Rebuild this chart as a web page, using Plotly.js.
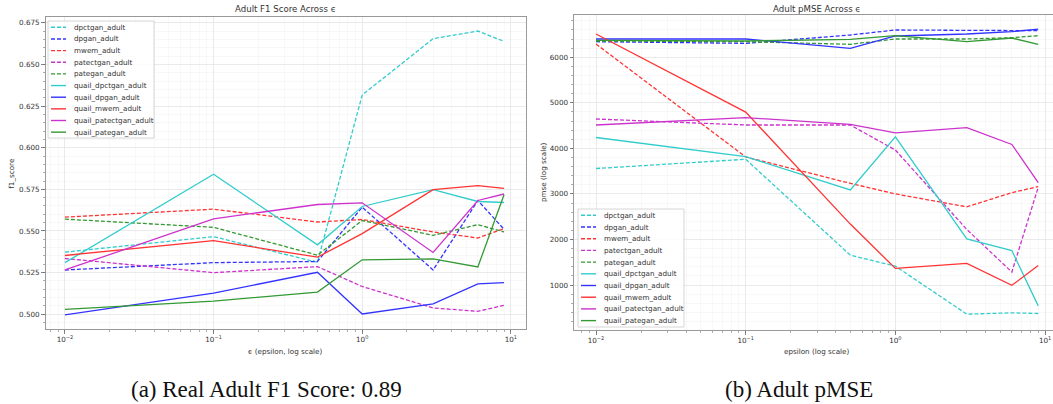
<!DOCTYPE html>
<html><head><meta charset="utf-8">
<script src="https://cdn.plot.ly/plotly-3.0.1.min.js"></script>
<style>html,body{margin:0;padding:0;background:#fff}#chart{width:1053px;height:404px}</style>
</head><body><div id="chart"></div>
<script>
// ---------- data ----------
const epsilon = [0.01, 0.1, 0.5, 1, 3, 6, 9];
const methods = ['dpctgan_adult','dpgan_adult','mwem_adult','patectgan_adult','pategan_adult',
  'quail_dpctgan_adult','quail_dpgan_adult','quail_mwem_adult','quail_patectgan_adult','quail_pategan_adult'];

// F1 score per method
const f1_dpctgan        = [0.5373, 0.5466, 0.5312, 0.6316, 0.6654, 0.6700, 0.6638];
const f1_dpgan          = [0.5266, 0.5310, 0.5317, 0.5643, 0.5266, 0.5683, 0.5510];
const f1_mwem           = [0.5583, 0.5631, 0.5554, 0.5569, 0.5494, 0.5458, 0.5514];
const f1_patectgan      = [0.5335, 0.5250, 0.5286, 0.5167, 0.5038, 0.5018, 0.5054];
const f1_pategan        = [0.5571, 0.5522, 0.5355, 0.5563, 0.5474, 0.5538, 0.5494];
const f1_quail_dpctgan  = [0.5310, 0.5841, 0.5417, 0.5647, 0.5748, 0.5677, 0.5671];
const f1_quail_dpgan    = [0.4996, 0.5127, 0.5252, 0.5002, 0.5063, 0.5183, 0.5190];
const f1_quail_mwem     = [0.5353, 0.5442, 0.5343, 0.5484, 0.5748, 0.5772, 0.5756];
const f1_quail_patectgan= [0.5266, 0.5573, 0.5659, 0.5669, 0.5371, 0.5683, 0.5722];
const f1_quail_pategan  = [0.5030, 0.5079, 0.5133, 0.5327, 0.5333, 0.5284, 0.5718];

// pMSE per method
const pmse_dpctgan        = [3558, 3761, 1655, 1414, 360, 389, 374];
const pmse_dpgan          = [6343, 6307, 6490, 6600, 6592, 6585, 6585];
const pmse_mwem           = [6292, 3812, 3233, 3000, 2716, 3029, 3160];
const pmse_patectgan      = [4645, 4514, 4514, 3964, 2220, 1284, 3145];
const pmse_pategan        = [6358, 6343, 6285, 6402, 6402, 6431, 6475];
const pmse_quail_dpctgan  = [4239, 3819, 3087, 4254, 2011, 1756, 542];
const pmse_quail_dpgan    = [6402, 6402, 6197, 6468, 6512, 6563, 6621];
const pmse_quail_mwem     = [6512, 4797, 2338, 1364, 1473, 993, 1429];
const pmse_quail_patectgan= [4514, 4674, 4529, 4341, 4457, 4087, 3247];
const pmse_quail_pategan  = [6373, 6358, 6395, 6475, 6343, 6424, 6285];

const xTickVals = [0.01, 0.1, 1, 10];
const xTickText = ['10<sup>\u22122</sup>', '10<sup>\u22121</sup>', '10<sup>0</sup>', '10<sup>1</sup>'];
const f1TickVals = [0.500, 0.525, 0.550, 0.575, 0.600, 0.625, 0.650, 0.675];
const pmseTickVals = [1000, 2000, 3000, 4000, 5000, 6000];

const f1Series = [f1_dpctgan, f1_dpgan, f1_mwem, f1_patectgan, f1_pategan,
  f1_quail_dpctgan, f1_quail_dpgan, f1_quail_mwem, f1_quail_patectgan, f1_quail_pategan];
const pmseSeries = [pmse_dpctgan, pmse_dpgan, pmse_mwem, pmse_patectgan, pmse_pategan,
  pmse_quail_dpctgan, pmse_quail_dpgan, pmse_quail_mwem, pmse_quail_patectgan, pmse_quail_pategan];

// ---------- styles ----------
const colors = ['#33cccc','#3333ff','#ff3333','#cc33cc','#339933',
                '#33cccc','#3333ff','#ff3333','#cc33cc','#339933'];
const dashes = ['4px,2px','4px,2px','4px,2px','4px,2px','4px,2px','solid','solid','solid','solid','solid'];

const W = 1053, H = 404;
const px = v => v / W;
const py = v => 1 - v / H;
const FONT = 'DejaVu Sans';
const TXT = '#333';

const traces = [];
methods.forEach((m, i) => {
  traces.push({x: epsilon, y: f1Series[i], xaxis: 'x', yaxis: 'y', type: 'scatter', mode: 'lines',
    name: m, showlegend: false, line: {color: colors[i], width: 1.3, dash: dashes[i]}});
});
methods.forEach((m, i) => {
  traces.push({x: epsilon, y: pmseSeries[i], xaxis: 'x2', yaxis: 'y2', type: 'scatter', mode: 'lines',
    name: m, showlegend: false, line: {color: colors[i], width: 1.3, dash: dashes[i]}});
});

function xAxis(domain, range) {
  return {type: 'log', domain: domain, range: range, tickmode: 'array', tickvals: xTickVals, ticktext: xTickText,
    showgrid: true, gridcolor: '#e6e6e6', gridwidth: 0.8, zeroline: false,
    showline: true, linecolor: '#999', linewidth: 1, mirror: true,
    ticks: 'outside', ticklen: 3.5, tickwidth: 0.8, tickcolor: '#666',
    tickfont: {family: FONT, size: 7.2, color: TXT},
    minor: {tickmode: 'linear', dtick: 'D1', showgrid: true, gridcolor: '#f3f3f3', gridwidth: 0.6,
            ticks: 'outside', ticklen: 2, tickwidth: 0.6, tickcolor: '#777'}};
}
function yAxis(domain, range, tickvals, fmt, minorDt, mirror) {
  return {domain: domain, range: range, tickmode: 'array', tickvals: tickvals, tickformat: fmt,
    showgrid: true, gridcolor: '#e6e6e6', gridwidth: 0.8, zeroline: false,
    showline: true, linecolor: '#999', linewidth: 1, mirror: mirror,
    ticks: 'outside', ticklen: 3.5, tickwidth: 0.8, tickcolor: '#666',
    tickfont: {family: FONT, size: 7.2, color: TXT},
    minor: {tickmode: 'linear', dtick: minorDt, showgrid: true, gridcolor: '#f3f3f3', gridwidth: 0.6,
            ticks: 'outside', ticklen: 2, tickwidth: 0.6, tickcolor: '#777'}};
}

const shapes = [];
const annotations = [];

function legend(left, top, right, bottom, firstY, step) {
  shapes.push({type: 'rect', xref: 'paper', yref: 'paper', x0: px(left), x1: px(right), y0: py(top), y1: py(bottom),
    line: {color: '#cccccc', width: 0.8}, fillcolor: 'rgba(255,255,255,0.85)', layer: 'above'});
  methods.forEach((m, i) => {
    const yy = firstY + step * i;
    shapes.push({type: 'line', xref: 'paper', yref: 'paper', x0: px(left + 3), x1: px(left + 18), y0: py(yy), y1: py(yy),
      line: {color: colors[i], width: 1.4, dash: dashes[i]}, layer: 'above'});
    annotations.push({xref: 'paper', yref: 'paper', x: px(left + 23.5), y: py(yy), xanchor: 'left', yanchor: 'middle',
      text: m, showarrow: false, font: {family: FONT, size: 7.2, color: TXT}});
  });
}
legend(48, 21, 154, 138, 27.3, 11.65);
legend(578, 209, 684, 327, 215.3, 11.7);

function label(x, y, text, size, extra) {
  annotations.push(Object.assign({xref: 'paper', yref: 'paper', x: px(x), y: py(y), xanchor: 'center', yanchor: 'middle',
    text: text, showarrow: false, font: {family: FONT, size: size, color: TXT}}, extra || {}));
}
label(285.8, 8.5, 'Adult F1 Score Across \u03f5', 8.6);
label(816.7, 8.5, 'Adult pMSE Across \u03f5', 8.6);
label(285, 351.5, '\u03f5 (epsilon, log scale)', 7.2);
label(817, 351.5, 'epsilon (log scale)', 7.2);
label(11.7, 173, 'f1_score', 7.2, {textangle: -90});
label(544, 172, 'pmse (log scale)', 7.2, {textangle: -90});
annotations.push({xref: 'paper', yref: 'paper', x: px(266), y: py(389), xanchor: 'center', yanchor: 'middle',
  text: '(a) Real Adult F1 Score: 0.89', showarrow: false, borderpad: 0,
  font: {family: 'Liberation Serif', size: 23, color: '#111'}});
annotations.push({xref: 'paper', yref: 'paper', x: px(799), y: py(389), xanchor: 'center', yanchor: 'middle',
  text: '(b) Adult pMSE', showarrow: false, borderpad: 0,
  font: {family: 'Liberation Serif', size: 23, color: '#111'}});

const layout = {
  width: W, height: H, margin: {l: 0, r: 0, t: 0, b: 0},
  paper_bgcolor: '#fff', plot_bgcolor: '#fff', showlegend: false,
  font: {family: FONT, size: 7.2, color: TXT},
  xaxis: xAxis([px(45.6), px(526)], [-2.13, 1.102]),
  yaxis: yAxis([py(329.3), py(16.7)], [0.491, 0.6786], f1TickVals, '.3f', 0.005, true),
  xaxis2: xAxis([px(574), 1], [-2.147, 1.053]),
  yaxis2: yAxis([py(330), py(15)], [12, 6929], pmseTickVals, 'd', 200, false),
  shapes: shapes, annotations: annotations
};
layout.xaxis2.anchor = 'y2';
layout.yaxis2.anchor = 'x2';

Plotly.newPlot('chart', traces, layout, {staticPlot: true, displayModeBar: false});
</script>
</body></html>
